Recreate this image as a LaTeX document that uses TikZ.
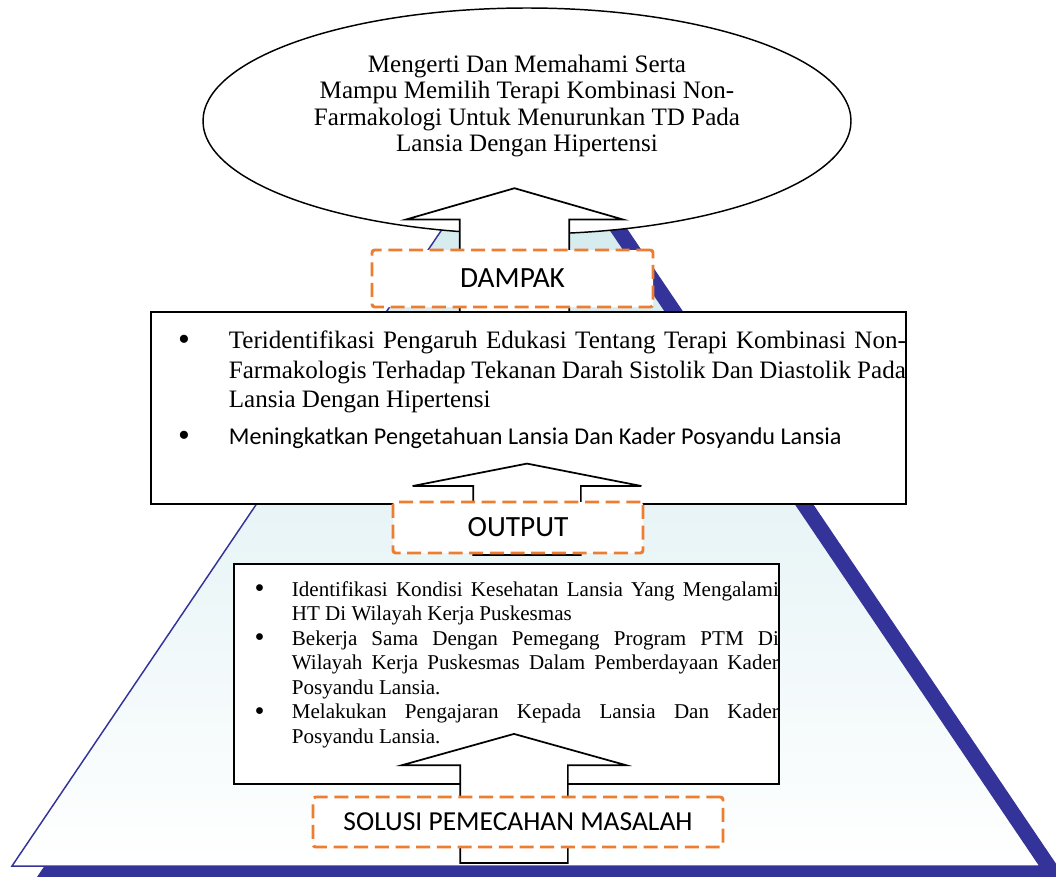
\documentclass[tikz,border=0pt]{standalone}
\usepackage{fontspec}
\setmainfont{Liberation Serif}
\newfontfamily\calibri{Carlito}
\usetikzlibrary{shapes.geometric,shapes.arrows,positioning}

\definecolor{pyrblue}{RGB}{51,51,153}
\definecolor{pyrcyan}{RGB}{205,232,236}
\definecolor{tagorange}{RGB}{237,125,49}

\newcommand{\boxbullet}{\raisebox{-0.08em}{\scalebox{1.35}{\textbullet}}}

% bullet list for the boxes: #1 text indent, #2 bullet offset, #3 right margin, #4 item gap
\newenvironment{boxlist}[4]{%
  \begin{list}{\boxbullet}{%
    \setlength{\leftmargin}{#1}\setlength{\labelwidth}{#1}%
    \setlength{\rightmargin}{#3}\setlength{\itemsep}{#4}%
    \setlength{\labelsep}{0pt}\setlength{\topsep}{0pt}%
    \setlength{\partopsep}{0pt}\setlength{\parsep}{0pt}%
    \renewcommand{\makelabel}[1]{\hspace*{#2}##1\hfill}}}%
  {\end{list}}

\begin{document}
\begin{tikzpicture}[
    x=0.75pt, y=-0.75pt,
    box/.style={draw, line width=1.3pt, fill=white, inner sep=0pt, anchor=north west},
    goal/.style={draw, ellipse, line width=1.1pt, fill=white, inner sep=0pt},
    tag/.style={draw=tagorange, line width=2.2pt, dash pattern=on 10.5pt off 5pt, rounded corners=2pt, fill=white, inner sep=0pt, font=\calibri\fontsize{22}{26}\selectfont},
    uparrow/.style={single arrow, rotate=90, anchor=tip, draw, line width=1.3pt, fill=white, inner xsep=0pt, inner ysep=39.75pt, single arrow head indent=0pt}
]
    \useasboundingbox (0,0) rectangle (1056,876);

    % Pyramid with its shadow
    \coordinate (apex) at (526,105);
    \coordinate (baseL) at (12,866);
    \coordinate (baseR) at (1040,866);
    \fill[pyrblue] ([shift={(25,11)}]apex) -- ([shift={(25,11)}]baseL) -- ([shift={(25,11)}]baseR) -- cycle;
    \draw[pyrblue, line width=1.1pt, top color=pyrcyan, bottom color=white] (apex) -- (baseL) -- (baseR) -- cycle;

    % Top goal
    \node[goal, minimum width=486pt, minimum height=169.5pt] (aim) at (527,121) {};
    \node[align=center, font=\fontsize{18.8}{19.7}\selectfont] (aimtext) at (527,106)
        {Mengerti Dan Memahami Serta\\ Mampu Memilih Terapi Kombinasi Non-\\ Farmakologi Untuk Menurunkan TD Pada\\ Lansia Dengan Hipertensi};

    % Dampak
    \node[uparrow, inner ysep=40.35pt, minimum height=92.8pt, minimum width=161.25pt, single arrow head extend=40.3pt, single arrow tip angle=147.8] (arrA) at (514.5,187.3) {};
    \node[tag, minimum width=210.75pt, minimum height=42.75pt] (dampak) at (512.5,278.5) {DAMPAK};

    % Output box
    \node[box] (result) at (150,311) {\parbox[t][144pt][t]{568.5pt}{\fontsize{18.8}{22}\selectfont
        \vspace*{14.5pt}%
        \begin{boxlist}{58.5pt}{20.5pt}{2.25pt}{5.75pt}
        \item Teridentifikasi Pengaruh Edukasi Tentang Terapi Kombinasi Non-\linebreak Farmakologis Terhadap Tekanan Darah Sistolik Dan Diastolik Pada\linebreak Lansia Dengan Hipertensi
        \item {\calibri\fontsize{18.1}{22}\selectfont Meningkatkan Pengetahuan Lansia Dan Kader Posyandu Lansia}
        \end{boxlist}}};
    \node[uparrow, minimum height=68.5pt, minimum width=170.25pt, single arrow head extend=45.4pt, single arrow tip angle=157.8] (arrB) at (527,462.7) {};
    \node[tag, minimum width=187.5pt, minimum height=38.25pt] (output) at (518,527.5) {OUTPUT};

    % Solution box
    \node[box] (solution) at (233,563) {\parbox[t][165pt][t]{423.75pt}{\fontsize{15.8}{18.4}\selectfont
        \vspace*{13pt}%
        \begin{boxlist}{43.5pt}{15.5pt}{15pt}{0pt}
        \item Identifikasi Kondisi Kesehatan Lansia Yang Mengalami\linebreak HT Di Wilayah Kerja Puskesmas
        \item Bekerja Sama Dengan Pemegang Program PTM Di\linebreak Wilayah Kerja Puskesmas Dalam Pemberdayaan Kader\linebreak Posyandu Lansia.
        \item Melakukan Pengajaran Kepada Lansia Dan Kader\linebreak Posyandu Lansia.
        \end{boxlist}}};
    \node[uparrow, minimum height=96.75pt, minimum width=166.5pt, single arrow head extend=43.5pt, single arrow tip angle=148.8] (arrC) at (514,733) {};
    \node[tag, minimum width=307.5pt, minimum height=37.5pt, font=\calibri\fontsize{20.6}{24}\selectfont] (solusi) at (518,822) {SOLUSI PEMECAHAN MASALAH};
\end{tikzpicture}
\end{document}
